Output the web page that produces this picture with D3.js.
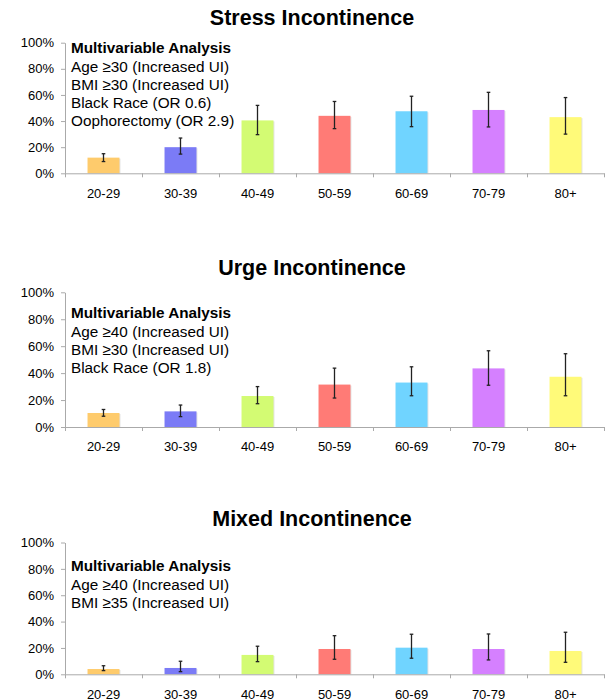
<!DOCTYPE html>
<html>
<head>
<meta charset="utf-8">
<script src="https://cdn.jsdelivr.net/npm/d3@7"></script>
<style>
  body { margin: 0; background: #fff; }
  svg { font-family: Arial, "Liberation Sans", Helvetica, sans-serif; }
  .axis path, .axis line { stroke: #aaa; }
  .axis text { fill: #000; font-size: 13px; }
</style>
</head>
<body>
<div id="chart"></div>
<script>
// age groups
const categories = ["20-29", "30-39", "40-49", "50-59", "60-69", "70-79", "80+"];
const barColors = ["#fecb6c", "#7b7bf6", "#d3fb73", "#ff7b76", "#70d4ff", "#d580ff", "#fffa79"];
const yTicks = [0, 20, 40, 60, 80, 100];

// prevalence (%) with error bar ends
const stressValues = [12, 20, 40.5, 44, 47.5, 48.5, 43];
const stressLow = [9, 14.7, 29.6, 34.2, 35.7, 35.5, 30];
const stressHigh = [15, 27, 52, 55, 59, 62, 58];

const urgeValues = [10.4, 11.6, 23, 31.5, 33, 43.5, 37.3];
const urgeLow = [8, 7.7, 17.3, 21.5, 23.2, 31, 23.2];
const urgeHigh = [13, 16.3, 30, 43.7, 44.7, 56.6, 54.4];

const mixedValues = [4, 4.8, 14.7, 19.2, 20.2, 19.2, 17.7];
const mixedLow = [2.8, 2, 9.6, 11.4, 12.2, 10.9, 9.1];
const mixedHigh = [6.5, 9.9, 21.3, 29.3, 30.4, 30.6, 31.9];

const titles = ["Stress Incontinence", "Urge Incontinence", "Mixed Incontinence"];
const stressNotes = ["Age \u226530 (Increased UI)", "BMI \u226530 (Increased UI)", "Black Race (OR 0.6)", "Oophorectomy (OR 2.9)"];
const urgeNotes = ["Age \u226540 (Increased UI)", "BMI \u226530 (Increased UI)", "Black Race (OR 1.8)"];
const mixedNotes = ["Age \u226540 (Increased UI)", "BMI \u226535 (Increased UI)"];

const width = 614, height = 699;
const left = 65, right = 604;

// layout for the three panels
const panels = [
  { title: titles[0], values: stressValues, low: stressLow, high: stressHigh, notes: stressNotes, top: 42.7, bottom: 173.3, titleY: 25, noteY: 52.7 },
  { title: titles[1], values: urgeValues, low: urgeLow, high: urgeHigh, notes: urgeNotes, top: 292.3, bottom: 427, titleY: 275, noteY: 317.7 },
  { title: titles[2], values: mixedValues, low: mixedLow, high: mixedHigh, notes: mixedNotes, top: 542.5, bottom: 674.3, titleY: 526, noteY: 570.7 }
];

const svg = d3.select("#chart")
  .append("svg")
  .attr("width", width)
  .attr("height", height);

// bars sit in the middle of each category slot
let xBand = d3.scaleBand()
  .domain(categories)
  .range([left, right])
  .paddingInner(0.585)
  .paddingOuter(0.2925);

// slot boundaries for the tick marks
let xEdges = d3.scaleLinear()
  .domain([0, categories.length])
  .range([left, right]);

panels.forEach(p => {
  let yScale = d3.scaleLinear()
    .domain([0, 100])
    .range([p.bottom, p.top]);

  let g = svg.append("g");

  g.append("text")
    .text(p.title)
    .attr("x", 312)
    .attr("y", p.titleY)
    .attr("text-anchor", "middle")
    .style("font-size", "21.5px")
    .style("font-weight", "bold");

  // y axis
  g.append("g")
    .attr("class", "axis")
    .attr("transform", "translate(" + left + ",0)")
    .call(d3.axisLeft(yScale)
      .tickValues(yTicks)
      .tickSize(4)
      .tickSizeOuter(0)
      .tickPadding(7)
      .tickFormat(d => d + "%"));

  // bars, with a faint shadow on the right edge
  let data = categories.map((c, i) => ({ c: c, v: p.values[i], lo: p.low[i], hi: p.high[i], color: barColors[i] }));

  g.selectAll(".shadow")
    .data(data)
    .enter()
    .append("rect")
    .attr("x", d => xBand(d.c) + 1)
    .attr("y", d => yScale(d.v) + 1)
    .attr("width", xBand.bandwidth())
    .attr("height", d => yScale(0) - yScale(d.v) - 1)
    .attr("fill", "#e3e3e3");

  g.selectAll(".bar")
    .data(data)
    .enter()
    .append("rect")
    .attr("x", d => xBand(d.c))
    .attr("y", d => yScale(d.v))
    .attr("width", xBand.bandwidth())
    .attr("height", d => yScale(0) - yScale(d.v))
    .attr("fill", d => d.color);

  // x axis: boundary ticks, then labels
  g.append("g")
    .attr("class", "axis")
    .attr("transform", "translate(0," + p.bottom + ")")
    .call(d3.axisBottom(xEdges)
      .tickValues(d3.range(categories.length + 1))
      .tickSize(4)
      .tickSizeOuter(0)
      .tickFormat(""));

  g.append("g")
    .attr("class", "axis")
    .attr("transform", "translate(0," + p.bottom + ")")
    .call(d3.axisBottom(xBand).tickSize(0).tickPadding(15))
    .call(a => a.select(".domain").remove());

  // error bars
  let eb = g.selectAll(".err")
    .data(data)
    .enter()
    .append("g")
    .attr("stroke", "#222")
    .attr("stroke-width", 1.3);

  let cx = d => xBand(d.c) + xBand.bandwidth() / 2;
  eb.append("line")
    .attr("x1", cx).attr("x2", cx)
    .attr("y1", d => yScale(d.lo))
    .attr("y2", d => yScale(d.hi));
  eb.append("line")
    .attr("x1", d => cx(d) - 1.8).attr("x2", d => cx(d) + 1.8)
    .attr("y1", d => yScale(d.hi)).attr("y2", d => yScale(d.hi));
  eb.append("line")
    .attr("x1", d => cx(d) - 1.8).attr("x2", d => cx(d) + 1.8)
    .attr("y1", d => yScale(d.lo)).attr("y2", d => yScale(d.lo));

  // multivariable analysis note
  let note = g.append("text")
    .attr("x", 71)
    .attr("y", p.noteY)
    .style("font-size", "15.3px");
  note.append("tspan")
    .attr("x", 71)
    .style("font-weight", "bold")
    .text("Multivariable Analysis");
  p.notes.forEach((t, i) => {
    note.append("tspan")
      .attr("x", 71)
      .attr("dy", i == 0 ? 19.2 : 18)
      .text(t);
  });
});
</script>
</body>
</html>
